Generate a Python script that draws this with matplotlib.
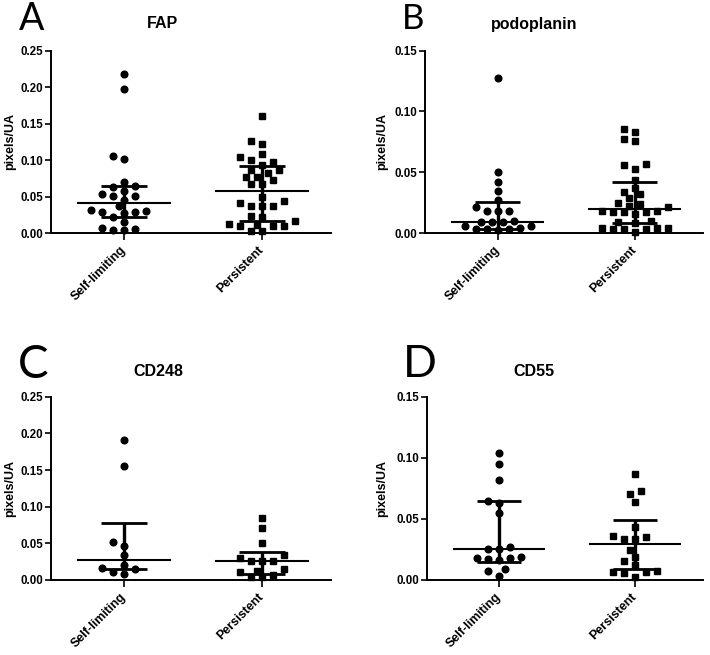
import numpy as np
import matplotlib
matplotlib.use("Agg")
import matplotlib.pyplot as plt

groups = ["Self-limiting", "Persistent"]
titles = ["FAP", "podoplanin", "CD248", "CD55"]
letters = ["A", "B", "C", "D"]
ymaxs = [0.25, 0.15, 0.25, 0.15]

fap_self = [0.218, 0.198, 0.106, 0.102, 0.070, 0.064, 0.0625, 0.058, 0.054, 0.051,
            0.051, 0.0456, 0.0365, 0.031, 0.030, 0.029, 0.029, 0.027, 0.022, 0.015,
            0.0064, 0.0055, 0.0046, 0.0036]
fap_pers = [0.1606, 0.1264, 0.1218, 0.108, 0.1036, 0.1004, 0.0967, 0.093, 0.0867, 0.0867,
            0.082, 0.077, 0.077, 0.0725, 0.067, 0.067, 0.0493, 0.0433, 0.041, 0.0374,
            0.0365, 0.0365, 0.0228, 0.0219, 0.016, 0.0123, 0.0114, 0.010, 0.0091, 0.0091,
            0.0032, 0.0023]
podo_self = [0.1273, 0.0506, 0.0416, 0.0348, 0.0268, 0.0214, 0.0183, 0.0178, 0.0178,
             0.0095, 0.0094, 0.0090, 0.0088, 0.006, 0.0055, 0.0038, 0.0033, 0.0033,
             0.0033, 0.0027]
podo_pers = [0.0854, 0.0835, 0.0772, 0.0758, 0.0567, 0.0561, 0.0528, 0.0438, 0.037, 0.034,
             0.032, 0.0287, 0.025, 0.024, 0.022, 0.021, 0.018, 0.018, 0.017, 0.017,
             0.017, 0.016, 0.0095, 0.009, 0.0085, 0.004, 0.004, 0.004, 0.0035, 0.0035,
             0.0035, 0.001]
cd248_self = [0.191, 0.156, 0.0518, 0.0468, 0.034, 0.020, 0.0159, 0.0145, 0.011, 0.0082]
cd248_pers = [0.0841, 0.0714, 0.050, 0.0336, 0.0295, 0.026, 0.026, 0.026, 0.0145,
              0.0127, 0.0105, 0.0068, 0.0045, 0.0045]
cd55_self = [0.1036, 0.0949, 0.0818, 0.0649, 0.0633, 0.0545, 0.0267, 0.0256, 0.0254,
             0.0185, 0.0177, 0.0177, 0.0172, 0.0165, 0.0093, 0.0071, 0.0035]
cd55_pers = [0.0867, 0.0731, 0.070, 0.0641, 0.0436, 0.0363, 0.0355, 0.0335, 0.0335,
             0.0245, 0.0191, 0.0158, 0.0123, 0.0074, 0.0063, 0.0063, 0.0055, 0.0022]

# median and interquartile range [self-limiting, persistent]
medians = [[0.0406, 0.057], [0.0088, 0.020], [0.0273, 0.0255], [0.0254, 0.0292]]
q1s = [[0.0224, 0.0169], [0.0035, 0.008], [0.0155, 0.008], [0.015, 0.0087]]
q3s = [[0.0639, 0.0921], [0.0252, 0.0419], [0.0782, 0.0386], [0.0646, 0.0491]]

data = [(fap_self, fap_pers), (podo_self, podo_pers),
        (cd248_self, cd248_pers), (cd55_self, cd55_pers)]

W, H = 710, 655
fig = plt.figure(figsize=(W / 100, H / 100), dpi=100)
FONT = "Liberation Sans"

# panel rectangles in pixels: left, top, width, height
rects = [(51, 50.7, 280, 182.3), (425, 50.7, 278, 182.3),
         (51, 396.7, 280, 183.3), (427, 396.7, 276, 183.3)]
title_pos = [(162, 23), (534, 24), (158, 372), (534, 372)]
letter_pos = [(19, 30, 27), (402, 29, 25), (18, 378, 33), (403, 377, 32)]
XLIM = (-0.53, 1.5)


def swarm_offsets(values, ymax, h_px, step, dmin):
    """Beeswarm: horizontal pixel offsets so markers keep >= dmin apart."""
    vals = np.asarray(values, float)
    ypx = vals / ymax * h_px
    offs = np.zeros(len(vals))
    placed = []
    cands = [0.0] + [s * j * step for j in range(1, 40) for s in (-1, 1)]
    for i in np.argsort(vals):
        for c in cands:
            if all((c - px) ** 2 + (ypx[i] - py) ** 2 >= dmin ** 2 for px, py in placed):
                break
        placed.append((c, ypx[i]))
        offs[i] = c
    return offs


for p in range(4):
    l, t, w, h = rects[p]
    ax = fig.add_axes([l / W, (H - t - h) / H, w / W, h / H])
    ymax = ymaxs[p]
    ax.set_xlim(*XLIM)
    ax.set_ylim(0, ymax)
    px_per_unit = w / (XLIM[1] - XLIM[0])
    for g, vals in enumerate(data[p]):
        offs = swarm_offsets(vals, ymax, h, 5.5, 8.0)
        xs = g + offs / px_per_unit
        ax.plot(xs, vals, linestyle="none", marker="o" if g == 0 else "s",
                ms=4.8 if g == 0 else 4.6, color="black", clip_on=False, zorder=3)
        ax.hlines(medians[p][g], g - 0.34, g + 0.34, color="black", lw=1.5, zorder=2)
        ax.hlines([q1s[p][g], q3s[p][g]], g - 0.165, g + 0.165, color="black", lw=2.0, zorder=2)
        ax.vlines(g, q1s[p][g], q3s[p][g], color="black", lw=2.4, zorder=2)

    for s in ("top", "right"):
        ax.spines[s].set_visible(False)
    for s in ("left", "bottom"):
        ax.spines[s].set_linewidth(1.4)
    yt = np.arange(0, ymax + 1e-9, 0.05)
    ax.set_yticks(yt)
    ax.set_yticklabels([f"{v:.2f}" for v in yt], fontfamily=FONT, fontweight="bold", fontsize=8.3)
    ax.tick_params(axis="y", length=4, width=1.2, pad=1.5)
    ax.set_xticks([0, 1])
    ax.set_xticklabels(groups, rotation=45, ha="right", va="center", rotation_mode="anchor",
                       fontfamily=FONT, fontweight="bold", fontsize=9)
    ax.tick_params(axis="x", length=5, width=1.2, pad=6)
    ax.set_ylabel("pixels/UA", fontfamily=FONT, fontweight="bold", fontsize=9)
    ax.yaxis.label.set_va("center")
    ax.yaxis.set_label_coords(-(l - 10 if p % 2 == 0 else l - 382) / w, 0.5)

    tx, ty = title_pos[p]
    fig.text(tx / W, 1 - ty / H, titles[p], ha="center", va="center",
             fontfamily=FONT, fontweight="bold", fontsize=11.5)
    lx, ly, ls = letter_pos[p]
    fig.text(lx / W, 1 - ly / H, letters[p], ha="left", va="baseline",
             fontfamily="Lato", fontsize=ls, color="black")

fig.savefig("out.png", dpi=100, facecolor="white")
